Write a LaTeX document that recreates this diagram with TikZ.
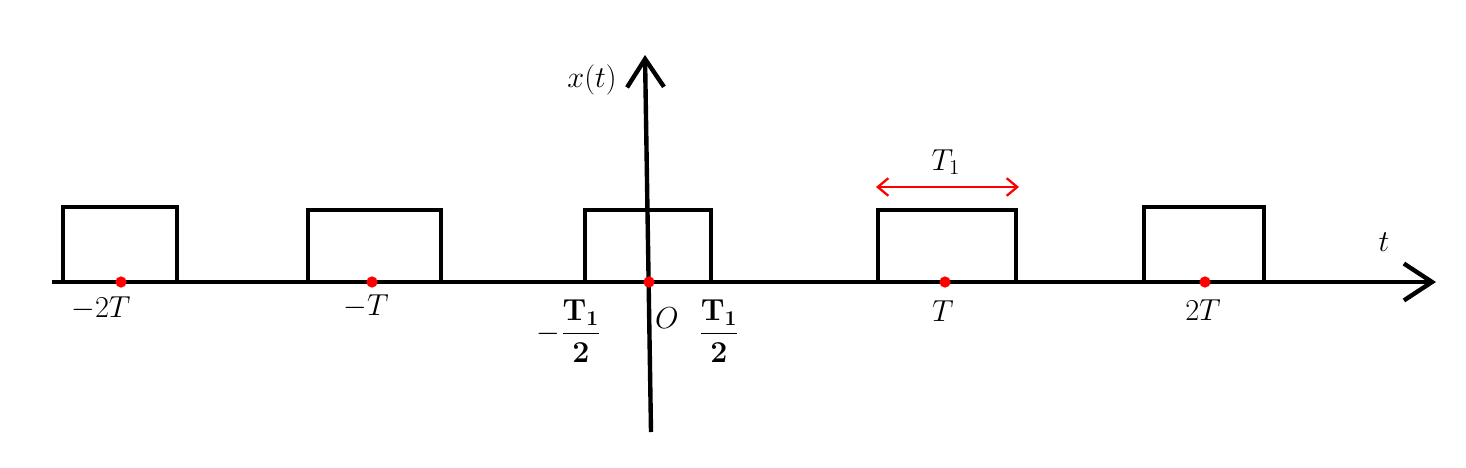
\documentclass[tikz,border=0pt]{standalone}
\usepackage{amsmath}
\usetikzlibrary{arrows.meta}
\begin{document}
\begin{tikzpicture}[x=0.02cm, y=-0.02cm, line width=2.5pt, font=\fontsize{18}{21}\selectfont,
    bigtip/.style={-{Straight Barb[length=16pt,width=21pt,line width=2.5pt]}},
    redtip/.tip={Straight Barb[length=6pt,width=10pt]}]
\useasboundingbox (0,0) rectangle (1466,467);
\coordinate (tL) at (52,282);
\coordinate (tR) at (1436,282);
\coordinate (xB) at (651,432);
\coordinate (xT) at (645,55);

\foreach \a/\b/\h in {63/177/207, 308/441/210, 585/711/210, 878/1016/210, 1144/1264/207}
{
    \draw[line join=miter] (\a,282)--(\a,\h)--(\b,\h)--(\b,282);
}
\draw[bigtip](tL)--(tR);
\draw[bigtip](xB)--(xT);
\node (xlab) at (592,80) {$x(t)$};
\node (tlab) at (1384,242) {$t$};

\foreach \x in {121,372,649,945,1205}
{
    \fill[red](\x,282) circle (3.2pt);
}
\node (m2T) at (101,308) {$-2T$};
\node (mT) at (366,306) {$-T$};
\node (mhalf) at (569,331) {$-\dfrac{\mathbf{T_1}}{\mathbf{2}}$};
\node (O) at (667,318) {$O$};
\node (phalf) at (719,331) {$\dfrac{\mathbf{T_1}}{\mathbf{2}}$};
\node (pT) at (943,311) {$T$};
\node (p2T) at (1203,310) {$2T$};

\coordinate (wL) at (876,187);
\coordinate (wR) at (1019,187);
\draw[red, line width=1.3pt, {redtip}-{redtip}](wL)--(wR);
\node (T1) at (946,162) {$T_1$};
\end{tikzpicture}
\end{document}
